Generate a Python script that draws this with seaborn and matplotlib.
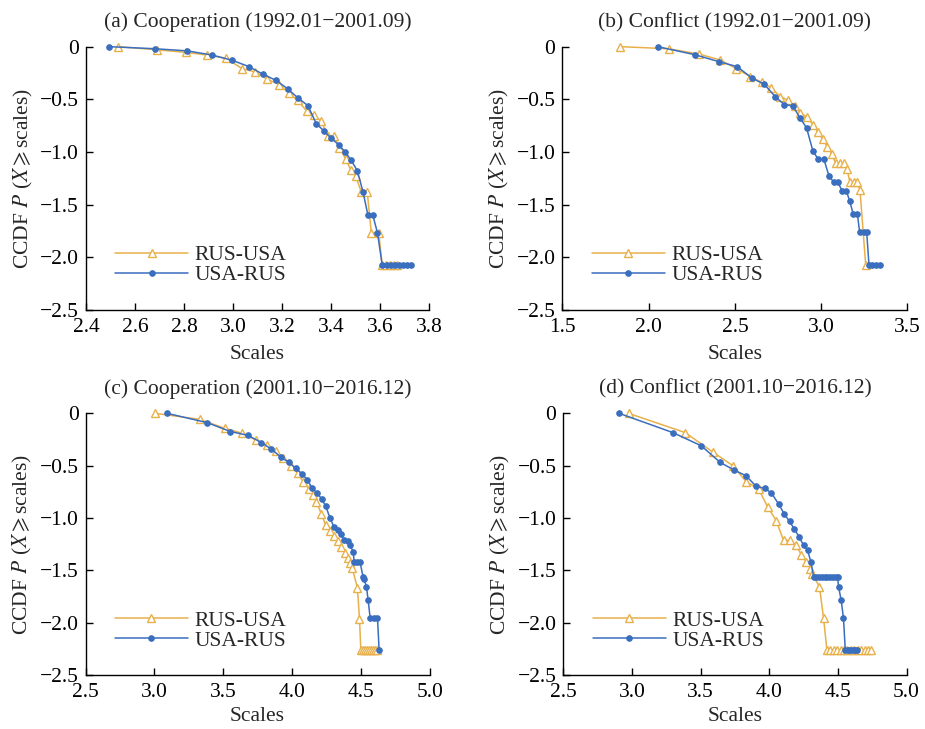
#!/usr/bin/env python3

import matplotlib
matplotlib.use("Agg")
import matplotlib.pyplot as plt
import seaborn as sns

# (a) Cooperation 1992.01-2001.09
a_rus_x = [2.531, 2.690, 2.806, 2.895, 2.970, 3.038, 3.090, 3.140, 3.188, 3.227,
           3.263, 3.300, 3.330, 3.360, 3.386, 3.413, 3.434, 3.460, 3.480, 3.500,
           3.523, 3.547, 3.564, 3.594, 3.608, 3.625, 3.640, 3.655, 3.670]
a_rus_y = [0.0, -0.03, -0.054, -0.08, -0.11, -0.21, -0.24, -0.31, -0.36, -0.44,
           -0.51, -0.61, -0.65, -0.71, -0.85, -0.85, -0.96, -1.07, -1.17, -1.23,
           -1.38, -1.38, -1.77, -1.77, -2.07, -2.07, -2.07, -2.07, -2.07]
a_usa_x = [2.494, 2.683, 2.813, 2.915, 2.997, 3.065, 3.120, 3.175, 3.222, 3.266,
           3.305, 3.339, 3.370, 3.400, 3.430, 3.457, 3.482, 3.507, 3.530, 3.550,
           3.570, 3.589, 3.608, 3.626, 3.644, 3.660, 3.677, 3.695, 3.710, 3.725]
a_usa_y = [0.0, -0.02, -0.04, -0.08, -0.13, -0.19, -0.26, -0.32, -0.40, -0.49,
           -0.56, -0.73, -0.80, -0.87, -0.93, -1.00, -1.08, -1.18, -1.38, -1.60,
           -1.60, -1.77, -2.07, -2.07, -2.07, -2.07, -2.07, -2.07, -2.07, -2.07]

# (b) Conflict 1992.01-2001.09
b_rus_x = [1.835, 2.116, 2.290, 2.416, 2.509, 2.590, 2.658, 2.710, 2.764, 2.809,
           2.847, 2.880, 2.919, 2.952, 2.980, 3.010, 3.035, 3.060, 3.084, 3.109,
           3.130, 3.150, 3.167, 3.190, 3.210, 3.225, 3.258]
b_rus_y = [0.0, -0.02, -0.07, -0.127, -0.21, -0.285, -0.34, -0.39, -0.475, -0.51,
           -0.56, -0.63, -0.67, -0.74, -0.81, -0.88, -0.95, -1.015, -1.107, -1.107,
           -1.107, -1.164, -1.29, -1.29, -1.29, -1.363, -2.07]
b_usa_x = [2.052, 2.267, 2.406, 2.513, 2.600, 2.671, 2.735, 2.787, 2.836, 2.876,
           2.915, 2.952, 2.983, 3.016, 3.045, 3.074, 3.097, 3.122, 3.146, 3.165,
           3.186, 3.210, 3.223, 3.248, 3.264, 3.277, 3.297, 3.316, 3.341]
b_usa_y = [0.0, -0.076, -0.142, -0.19, -0.30, -0.358, -0.478, -0.55, -0.563, -0.674,
           -0.77, -0.99, -1.07, -1.07, -1.227, -1.29, -1.29, -1.37, -1.37, -1.465,
           -1.59, -1.59, -1.765, -1.765, -1.765, -2.07, -2.07, -2.07, -2.07]

# (c) Cooperation 2001.10-2016.12
c_rus_x = [3.007, 3.328, 3.512, 3.638, 3.735, 3.815, 3.886, 3.937, 3.990, 4.040,
           4.080, 4.123, 4.155, 4.177, 4.213, 4.245, 4.274, 4.305, 4.334, 4.359,
           4.383, 4.407, 4.421, 4.438, 4.475, 4.490, 4.500, 4.515, 4.530, 4.545,
           4.560, 4.575, 4.590, 4.605, 4.620]
c_rus_y = [0.0, -0.057, -0.143, -0.19, -0.254, -0.30, -0.358, -0.43, -0.50, -0.57,
           -0.653, -0.72, -0.78, -0.843, -0.96, -1.07, -1.12, -1.176, -1.224, -1.277,
           -1.33, -1.38, -1.43, -1.48, -1.666, -1.96, -2.265, -2.265, -2.265, -2.265,
           -2.265, -2.265, -2.265, -2.265, -2.265]
c_usa_x = [3.092, 3.384, 3.553, 3.680, 3.777, 3.850, 3.922, 3.978, 4.026, 4.075,
           4.111, 4.148, 4.184, 4.215, 4.245, 4.276, 4.305, 4.334, 4.354, 4.378,
           4.407, 4.421, 4.446, 4.450, 4.475, 4.494, 4.516, 4.523, 4.541, 4.553,
           4.568, 4.592, 4.621, 4.633]
c_usa_y = [0.0, -0.089, -0.174, -0.21, -0.279, -0.342, -0.421, -0.469, -0.526, -0.58,
           -0.637, -0.716, -0.764, -0.818, -0.887, -1.00, -1.086, -1.118, -1.15, -1.214,
           -1.224, -1.26, -1.324, -1.42, -1.42, -1.42, -1.56, -1.58, -1.657, -1.784,
           -1.958, -1.958, -1.958, -2.265]

# (d) Conflict 2001.10-2016.12
d_rus_x = [2.975, 3.388, 3.594, 3.735, 3.832, 3.922, 3.990, 4.051, 4.104, 4.153,
           4.197, 4.233, 4.270, 4.299, 4.315, 4.366, 4.396, 4.420, 4.445, 4.470,
           4.495, 4.520, 4.545, 4.570, 4.595, 4.620, 4.645, 4.670, 4.695, 4.720,
           4.745]
d_rus_y = [0.0, -0.184, -0.374, -0.50, -0.653, -0.722, -0.897, -1.024, -1.214, -1.214,
           -1.26, -1.35, -1.42, -1.483, -1.537, -1.657, -1.958, -2.26, -2.26, -2.26,
           -2.26, -2.26, -2.26, -2.26, -2.26, -2.26, -2.26, -2.26, -2.26, -2.26,
           -2.26]
d_usa_x = [2.907, 3.298, 3.505, 3.643, 3.745, 3.830, 3.905, 3.966, 4.015, 4.068,
           4.109, 4.148, 4.182, 4.218, 4.250, 4.279, 4.304, 4.323, 4.343, 4.363,
           4.383, 4.403, 4.423, 4.443, 4.463, 4.483, 4.498, 4.505, 4.524, 4.541,
           4.554, 4.572, 4.590, 4.608, 4.626, 4.643]
d_usa_y = [0.0, -0.184, -0.31, -0.469, -0.542, -0.596, -0.697, -0.716, -0.76, -0.865,
           -0.96, -1.033, -1.103, -1.18, -1.26, -1.308, -1.42, -1.56, -1.56, -1.56,
           -1.56, -1.56, -1.56, -1.56, -1.56, -1.56, -1.56, -1.657, -1.784, -1.958,
           -2.26, -2.26, -2.26, -2.26, -2.26, -2.26]

titles = [
    "(a) Cooperation (1992.01\u22122001.09)",
    "(b) Conflict (1992.01\u22122001.09)",
    "(c) Cooperation (2001.10\u22122016.12)",
    "(d) Conflict (2001.10\u22122016.12)",
]
x_ticks = [
    [2.4, 2.6, 2.8, 3.0, 3.2, 3.4, 3.6, 3.8],
    [1.5, 2.0, 2.5, 3.0, 3.5],
    [2.5, 3.0, 3.5, 4.0, 4.5, 5.0],
    [2.5, 3.0, 3.5, 4.0, 4.5, 5.0],
]
y_ticks = [0, -0.5, -1.0, -1.5, -2.0, -2.5]
y_tick_labels = ["0", "\u22120.5", "\u22121.0", "\u22121.5", "\u22122.0", "\u22122.5"]

ORANGE = "#E8B04A"
BLUE = "#3A6EBE"


def main():
    sns.set_style("ticks")
    plt.rcParams["font.family"] = ["Liberation Serif", "DejaVu Serif"]
    plt.rcParams["mathtext.fontset"] = "stix"

    fig = plt.figure(figsize=(9.25, 7.29), dpi=100)
    rects = [
        (0.093, 0.575, 0.371, 0.361),
        (0.608, 0.575, 0.373, 0.361),
        (0.0925, 0.074, 0.372, 0.359),
        (0.609, 0.074, 0.371, 0.359),
    ]
    panels = [
        (a_rus_x, a_rus_y, a_usa_x, a_usa_y),
        (b_rus_x, b_rus_y, b_usa_x, b_usa_y),
        (c_rus_x, c_rus_y, c_usa_x, c_usa_y),
        (d_rus_x, d_rus_y, d_usa_x, d_usa_y),
    ]

    for i, (rect, data) in enumerate(zip(rects, panels)):
        ax = fig.add_axes(rect)
        rx, ry, ux, uy = data
        sns.lineplot(
            x=rx, y=ry, ax=ax, sort=False, color=ORANGE, linewidth=1.1,
            marker="^", markersize=6, markerfacecolor="white",
            markeredgecolor=ORANGE, markeredgewidth=1.0, label="RUS-USA",
            clip_on=False, zorder=3,
        )
        sns.lineplot(
            x=ux, y=uy, ax=ax, sort=False, color=BLUE, linewidth=1.1,
            marker="o", markersize=4, markeredgecolor=BLUE, label="USA-RUS",
            clip_on=False, zorder=4,
        )
        ax.set_xlim(x_ticks[i][0], x_ticks[i][-1])
        ax.set_ylim(-2.5, 0)
        ax.set_xticks(x_ticks[i])
        ax.set_xticklabels([f"{t:.1f}" for t in x_ticks[i]])
        ax.set_yticks(y_ticks)
        ax.set_yticklabels(y_tick_labels)
        sns.despine(ax=ax)
        for side in ("left", "bottom"):
            ax.spines[side].set_linewidth(1.0)
            ax.spines[side].set_color("black")
        ax.tick_params(direction="in", length=5, width=1.0, labelsize=15.5,
                       colors="black")
        ax.tick_params(axis="x", pad=6)
        ax.tick_params(axis="y", pad=5)
        ax.set_xlabel("Scales", fontsize=15.5, labelpad=6 if i < 2 else 3)
        ax.set_ylabel(r"CCDF $P$ ($X\geqslant$scales)", fontsize=15.5,
                      labelpad=4)
        ax.set_title(titles[i], fontsize=15.5, pad=14)
        ax.legend(
            loc="lower left", bbox_to_anchor=(0.06, 0.06), frameon=False,
            fontsize=15.5, handlelength=3.4, handletextpad=0.3,
            labelspacing=0.0, borderaxespad=0,
        )

    fig.savefig("out.png", dpi=100)


if __name__ == '__main__':
    main()
